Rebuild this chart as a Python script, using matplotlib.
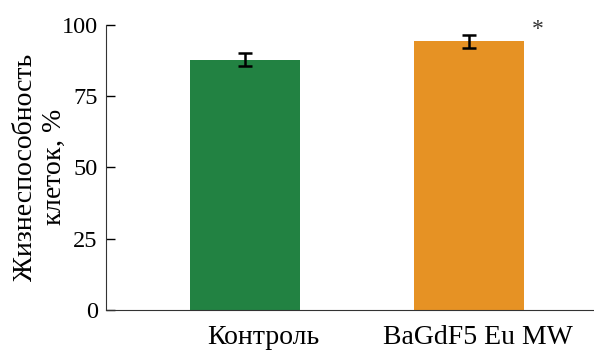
import numpy as np
import matplotlib
matplotlib.use("Agg")
import matplotlib.pyplot as plt

plt.rcParams['font.family'] = ['Liberation Serif', 'DejaVu Serif']
plt.rcParams['mathtext.fontset'] = 'custom'
plt.rcParams['mathtext.rm'] = 'Liberation Serif'
plt.rcParams['mathtext.it'] = 'Liberation Serif:italic'

# data
groups = ["Контроль", "BaGdF5 Eu MW"]
viability = [87.8, 94.3]
errors = [2.2, 2.3]
colors = ["#228242", "#e69224"]
yticks = [0, 25, 50, 75, 100]

fig = plt.figure(figsize=(5.94, 3.53), dpi=100)
ax = fig.add_axes([0.1785, 0.1218, 0.8215, 0.8074])

x = np.arange(len(groups))
ax.bar(x, viability, width=0.49, color=colors, edgecolor='none')
ax.errorbar(x, viability, yerr=errors, fmt='none', ecolor='black',
            elinewidth=1.8, capsize=5, capthick=1.8)

# significance mark
ax.text(1.305, 98.5, "*", ha='center', va='center', fontsize=17, color='#333333')

ax.set_xlim(-0.619, 1.555)
ax.set_ylim(0, 100)
ax.set_yticks(yticks)
ax.set_xticks([0.08, 1.04])
ax.set_xticklabels(groups)
ax.tick_params(axis='x', length=0, pad=11, labelsize=20)
ax.tick_params(axis='y', length=6.5, width=1, pad=6, labelsize=17.5, direction='in')

for s in ['top', 'right']:
    ax.spines[s].set_visible(False)
ax.spines['left'].set_color('#333333')
ax.spines['bottom'].set_color('#333333')

fig.text(40 / 594, 1 - 167 / 353, "Жизнеспособность\nклеток, $\\it{\\%}$",
         rotation=90, ha='center', va='center', fontsize=20, linespacing=1.2,
         multialignment='center')

fig.savefig("out.png", dpi=100)
